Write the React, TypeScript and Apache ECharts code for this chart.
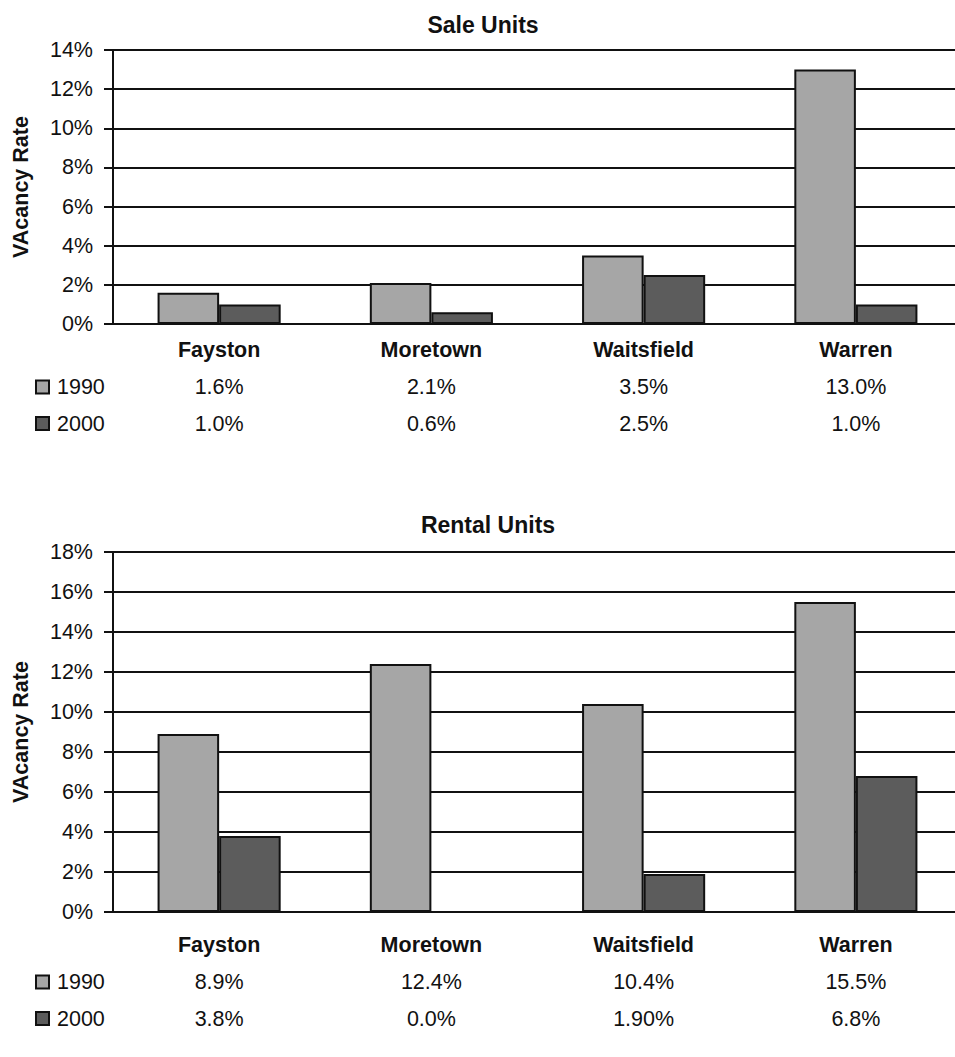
import React, { useEffect, useRef } from "react";
import * as echarts from "echarts";

const towns = ["Fayston", "Moretown", "Waitsfield", "Warren"];
const years = ["1990", "2000"];

// Table text for each panel; bar heights are parsed from the same strings.
const sale1990Labels = ["1.6%", "2.1%", "3.5%", "13.0%"];
const sale2000Labels = ["1.0%", "0.6%", "2.5%", "1.0%"];
const rental1990Labels = ["8.9%", "12.4%", "10.4%", "15.5%"];
const rental2000Labels = ["3.8%", "0.0%", "1.90%", "6.8%"];

const saleTicksMax = 14;
const rentalTicksMax = 18;
const tickStep = 2;

const toValues = (labels: string[]) => labels.map((s) => parseFloat(s));

const FONT = "'Liberation Sans Narrow', 'Arial Narrow', 'Liberation Sans', Arial, sans-serif";
const WIDE = "'Liberation Sans', Arial, sans-serif";
const LIGHT = "#a6a6a6";
const DARK = "#5c5c5c";
const INK = "#111111";

export default function App() {
  const ref = useRef<HTMLDivElement>(null);

  useEffect(() => {
    if (!ref.current) return;
    const chart = echarts.init(ref.current, undefined, { renderer: "svg" });

    const grids = [
      { left: 113, top: 50, right: -7, bottom: 1057 - 324, outerBoundsMode: "none", containLabel: false },
      { left: 113, top: 552, right: -7, bottom: 1057 - 912, outerBoundsMode: "none", containLabel: false },
    ];

    const tables = [
      [sale1990Labels, sale2000Labels],
      [rental1990Labels, rental2000Labels],
    ];

    const makeX = (gi: number, margin: number) => ({
      type: "category",
      gridIndex: gi,
      data: towns,
      axisLine: { show: true, lineStyle: { color: INK, width: 2 } },
      axisTick: { show: false },
      axisLabel: {
        interval: 0,
        margin,
        formatter: (value: string, idx: number) =>
          `{cat|${value}}\n{v|${tables[gi][0][idx]}}\n{v|${tables[gi][1][idx]}}`,
        rich: {
          cat: {
            fontFamily: FONT,
            fontWeight: "bold",
            fontSize: 21.5,
            lineHeight: 38,
            color: INK,
          },
          v: {
            fontFamily: FONT,
            fontSize: 21.5,
            lineHeight: 36.5,
            color: INK,
          },
        },
      },
    });

    const makeY = (gi: number, max: number) => ({
      type: "value",
      gridIndex: gi,
      min: 0,
      max,
      interval: tickStep,
      name: "VAcancy Rate",
      nameLocation: "middle",
      nameGap: 81,
      nameTextStyle: {
        fontFamily: WIDE,
        fontWeight: "bold",
        fontSize: 21.5,
        color: INK,
      },
      axisLine: { show: true, lineStyle: { color: INK, width: 2 } },
      axisTick: { show: true, length: 9, lineStyle: { color: INK, width: 2 } },
      splitLine: { show: true, lineStyle: { color: INK, width: 2 } },
      axisLabel: {
        formatter: "{value}%",
        margin: 20,
        fontFamily: FONT,
        fontSize: 21.5,
        color: INK,
      },
    });

    const makeBar = (name: string, gi: number, labels: string[], color: string) => ({
      type: "bar",
      name,
      xAxisIndex: gi,
      yAxisIndex: gi,
      data: toValues(labels),
      barGap: "0%",
      barCategoryGap: "42%",
      itemStyle: { color, borderColor: INK, borderWidth: 2 },
    });

    const makeLegend = (top: number) => ({
      orient: "vertical",
      left: 35,
      top,
      padding: 0,
      itemGap: 12.5,
      itemWidth: 13,
      itemHeight: 13,
      icon: "rect",
      selectedMode: false,
      data: years,
      textStyle: {
        fontFamily: FONT,
        fontSize: 21.5,
        lineHeight: 24,
        color: INK,
        padding: [0, 0, 0, 3],
      },
    });

    chart.setOption({
      animation: false,
      backgroundColor: "#ffffff",
      title: [
        {
          text: "Sale Units",
          left: 478,
          top: 8,
          textAlign: "center",
          textStyle: { fontFamily: FONT, fontWeight: "bold", fontSize: 23, color: INK },
        },
        {
          text: "Rental Units",
          left: 483,
          top: 508,
          textAlign: "center",
          textStyle: { fontFamily: FONT, fontWeight: "bold", fontSize: 23, color: INK },
        },
      ],
      legend: [makeLegend(375), makeLegend(970)],
      grid: grids,
      xAxis: [makeX(0, 7), makeX(1, 14)],
      yAxis: [makeY(0, saleTicksMax), makeY(1, rentalTicksMax)],
      series: [
        makeBar(years[0], 0, sale1990Labels, LIGHT),
        makeBar(years[1], 0, sale2000Labels, DARK),
        makeBar(years[0], 1, rental1990Labels, LIGHT),
        makeBar(years[1], 1, rental2000Labels, DARK),
      ],
    });

    return () => chart.dispose();
  }, []);

  return (
    <div
      ref={ref}
      style={{ position: "absolute", left: 0, top: 0, width: 955, height: 1057 }}
    />
  );
}
